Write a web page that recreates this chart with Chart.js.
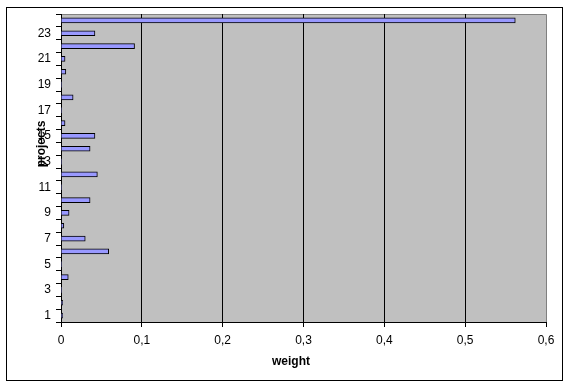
<!DOCTYPE html>
<html><head><meta charset="utf-8">
<script src="https://cdn.jsdelivr.net/npm/chart.js@4/dist/chart.umd.min.js"></script>
<style>html,body{margin:0;padding:0;background:#fff}#wrap{width:572px;height:384px}</style>
</head><body><div id="wrap"><canvas id="c" width="572" height="384"></canvas></div>
<script>
const categories = ['1','2','3','4','5','6','7','8','9','10','11','12','13','14','15','16','17','18','19','20','21','22','23','24'];
const weights = [0.002,0.002,0,0.009,0,0.059,0.030,0.0035,0.010,0.036,0,0.045,0,0.036,0.042,0.005,0,0.015,0,0.006,0.005,0.091,0.042,0.562];
const xTicks = [0,0.1,0.2,0.3,0.4,0.5,0.6];
const xTitle = 'weight';
const yTitle = 'projects';

const FONT = 'Liberation Sans, Arial, sans-serif';

const deco = {
  id:'deco',
  beforeDraw(chart){
    const {ctx, chartArea:a} = chart;
    ctx.save();
    ctx.fillStyle = '#fff';
    ctx.fillRect(0,0,chart.width,chart.height);
    ctx.strokeStyle = '#000'; ctx.lineWidth = 1;
    ctx.strokeRect(6.5,7.5,556,373);
    ctx.fillStyle = '#C0C0C0';
    ctx.fillRect(a.left,a.top,a.right-a.left,a.bottom-a.top);
    ctx.strokeStyle = '#808080';
    ctx.beginPath();
    ctx.moveTo(a.left, a.top+0.5); ctx.lineTo(a.right+0.5, a.top+0.5); ctx.lineTo(a.right+0.5, a.bottom);
    ctx.stroke();
    ctx.restore();
  },
  afterDraw(chart){
    const {ctx} = chart;
    ctx.save();
    ctx.fillStyle = '#000';
    ctx.font = 'bold 12px ' + FONT;
    ctx.textAlign = 'center'; ctx.textBaseline = 'middle';
    ctx.fillText(xTitle, 291, 362);
    ctx.translate(42, 144);
    ctx.rotate(-Math.PI/2);
    ctx.fillText(yTitle, 0, 0);
    ctx.restore();
  }
};

new Chart(document.getElementById('c'), {
  type:'bar',
  data:{ labels:categories, datasets:[{ data:weights, backgroundColor:'#9999FF', borderColor:'#000',
    borderWidth:(c)=> (c.raw ? 1 : 0), barThickness:5 }] },
  options:{
    indexAxis:'y', responsive:false, animation:false, devicePixelRatio:1,
    layout:{ padding:{ left:6, top:14, right:26, bottom:4 } },
    plugins:{ legend:{display:false}, tooltip:{enabled:false} },
    scales:{
      x:{
        min:0, max:0.6,
        afterBuildTicks(s){ s.ticks = xTicks.map(v=>({value:v})); },
        afterFit(s){ s.height = 58; },
        border:{ display:true, color:'#000', width:1 },
        grid:{ color:(c)=> (c.tick && c.tick.value >= 0.6) ? 'rgba(0,0,0,0)' : '#000', tickColor:'#000', tickLength:5, lineWidth:1 },
        ticks:{ color:'#000', font:{family:FONT, size:12}, padding:6, maxRotation:0,
          callback:(v)=> v===0 ? '0' : Number(v).toFixed(1).replace('.',',') }
      },
      y:{
        reverse:true,
        afterFit(s){ s.width = 55; },
        border:{ display:true, color:'#000', width:1 },
        grid:{ offset:true, drawOnChartArea:false, color:'#000', tickLength:5 },
        ticks:{ autoSkip:false, color:'#000', font:{family:FONT, size:12}, padding:5,
          callback:function(v, i){ return i % 2 === 0 ? categories[i] : ''; } }
      }
    }
  },
  plugins:[deco]
});
</script></body></html>
